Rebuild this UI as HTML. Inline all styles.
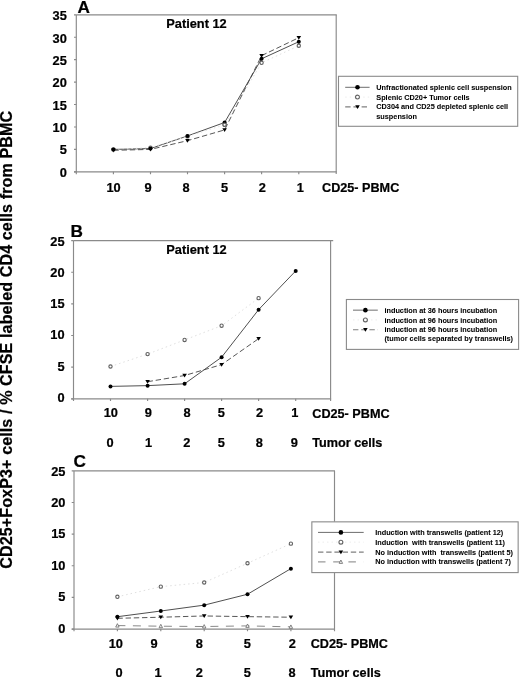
<!DOCTYPE html>
<html lang="en"><head><meta charset="utf-8"><title>Figure</title>
<style>html,body{margin:0;padding:0;background:#fff}svg{display:block}text{font-family:"Liberation Sans", Arial, Helvetica, sans-serif;font-weight:bold;fill:#000;stroke:#000;stroke-width:0.22px;white-space:pre}text.l{stroke-width:0.05px}</style></head><body>
<svg width="520" height="678" viewBox="0 0 520 678">
<rect width="520" height="678" fill="#fff"/>
<text transform="translate(12.3 339.8) rotate(-90)" font-size="16.1" letter-spacing="0.1" text-anchor="middle">CD25+FoxP3+ cells / % CFSE labeled CD4 cells from PBMC</text>
<g fill="none" stroke="#8a8a8a" stroke-width="1.15">
<path d="M76.3 14.8H336.7"/>
<path d="M336.2 14.8V174.05"/>
<path d="M76.3 14.8V174.15M74 171.85H336.7"/>
<path d="M74 171.85H76.3M74 149.41H76.3M74 126.98H76.3M74 104.54H76.3M74 82.11H76.3M74 59.67H76.3M74 37.24H76.3M74 14.8H76.3M113.4 171.85V174.15M150.5 171.85V174.15M187.5 171.85V174.15M224.6 171.85V174.15M261.6 171.85V174.15M298.8 171.85V174.15"/>
</g>
<text x="66.8" y="176.7" font-size="12.8" text-anchor="end">0</text>
<text x="66.8" y="154.34" font-size="12.8" text-anchor="end">5</text>
<text x="66.8" y="131.99" font-size="12.8" text-anchor="end">10</text>
<text x="66.8" y="109.63" font-size="12.8" text-anchor="end">15</text>
<text x="66.8" y="87.27" font-size="12.8" text-anchor="end">20</text>
<text x="66.8" y="64.91" font-size="12.8" text-anchor="end">25</text>
<text x="66.8" y="42.56" font-size="12.8" text-anchor="end">30</text>
<text x="66.8" y="20.2" font-size="12.8" text-anchor="end">35</text>
<text x="113.6" y="192.3" font-size="12.8" text-anchor="middle">10</text>
<text x="148" y="192.3" font-size="12.8" text-anchor="middle">9</text>
<text x="186" y="192.3" font-size="12.8" text-anchor="middle">8</text>
<text x="224.5" y="192.3" font-size="12.8" text-anchor="middle">5</text>
<text x="262.3" y="192.3" font-size="12.8" text-anchor="middle">2</text>
<text x="300.4" y="192.3" font-size="12.8" text-anchor="middle">1</text>
<polyline points="113.4,149.41 150.5,148.52 187.5,135.95 224.6,122.49 261.6,58.77 298.8,41.72" fill="none" stroke="#505050" stroke-width="1.0"/>
<polyline points="113.4,149.41 150.5,147.62 187.5,136.4 224.6,124.73 261.6,62.81 298.8,45.76" fill="none" stroke="#e0e0e0" stroke-width="1" stroke-dasharray="1.5 3"/>
<polyline points="113.4,150.31 150.5,149.41 187.5,140.66 224.6,129.9 261.6,55.63 298.8,37.68" fill="none" stroke="#444" stroke-width="0.9" stroke-dasharray="5.4 2.8"/>
<path d="M111.1 148.61H115.7L113.4 152.41Z" fill="#000"/>
<path d="M148.2 147.71H152.8L150.5 151.51Z" fill="#000"/>
<path d="M185.2 138.96H189.8L187.5 142.76Z" fill="#000"/>
<path d="M222.3 128.2H226.9L224.6 132Z" fill="#000"/>
<path d="M259.3 53.93H263.9L261.6 57.73Z" fill="#000"/>
<path d="M296.5 35.98H301.1L298.8 39.78Z" fill="#000"/>
<circle cx="113.4" cy="149.41" r="1.65" fill="#fff" stroke="#606060" stroke-width="1.1"/>
<circle cx="150.5" cy="147.62" r="1.65" fill="#fff" stroke="#606060" stroke-width="1.1"/>
<circle cx="187.5" cy="136.4" r="1.65" fill="#fff" stroke="#606060" stroke-width="1.1"/>
<circle cx="224.6" cy="124.73" r="1.65" fill="#fff" stroke="#606060" stroke-width="1.1"/>
<circle cx="261.6" cy="62.81" r="1.65" fill="#fff" stroke="#606060" stroke-width="1.1"/>
<circle cx="298.8" cy="45.76" r="1.65" fill="#fff" stroke="#606060" stroke-width="1.1"/>
<circle cx="113.4" cy="149.41" r="2.0" fill="#000"/>
<circle cx="150.5" cy="148.52" r="2.0" fill="#000"/>
<circle cx="187.5" cy="135.95" r="2.0" fill="#000"/>
<circle cx="224.6" cy="122.49" r="2.0" fill="#000"/>
<circle cx="261.6" cy="58.77" r="2.0" fill="#000"/>
<circle cx="298.8" cy="41.72" r="2.0" fill="#000"/>
<circle cx="224.6" cy="124.73" r="1.65" fill="#fff" stroke="#606060" stroke-width="1.1"/>
<text x="77.5" y="13" font-size="17.2">A</text>
<text x="196.5" y="28.4" font-size="12.8" text-anchor="middle">Patient 12</text>
<text x="322" y="192.2" font-size="12.65">CD25- PBMC</text>
<rect x="338.5" y="76.3" width="179.2" height="50" fill="#fff" stroke="#8a8a8a" stroke-width="1.1"/>
<path d="M345.2 87.3H369.6" stroke="#484848" stroke-width="0.8" fill="none"/>
<circle cx="357.5" cy="87.3" r="2.3" fill="#000"/>
<text x="376.3" y="89.85" font-size="7.3" class="l">Unfractionated splenic cell suspension</text>
<path d="M345.2 97.1H369.6" stroke="#ececec" stroke-width="1" stroke-dasharray="1.5 3" fill="none"/>
<circle cx="357.5" cy="97.1" r="1.9499999999999997" fill="#fff" stroke="#606060" stroke-width="1.1"/>
<text x="376.3" y="99.5" font-size="7.3" class="l">Splenic CD20+ Tumor cells</text>
<path d="M345.2 106.9H369.6" stroke="#808080" stroke-width="1.2" stroke-dasharray="5.4 2.8" fill="none"/>
<path d="M355.2 105.2H359.8L357.5 109Z" fill="#000"/>
<text x="376.3" y="109.2" font-size="7.3" class="l">CD304 and CD25 depleted splenic cell</text>
<text x="376.3" y="119" font-size="7.3" class="l">suspension</text>
<g fill="none" stroke="#8a8a8a" stroke-width="1.15">
<path d="M73.5 240.55H333.2"/>
<path d="M330.6 240.55V401"/>
<path d="M73.5 240.55V401.1M71.2 398.8H331.1"/>
<path d="M71.2 398.8H73.5M71.2 367.15H73.5M71.2 335.5H73.5M71.2 303.85H73.5M71.2 272.2H73.5M71.2 240.55H73.5M110.5 398.8V401.1M147.6 398.8V401.1M184.6 398.8V401.1M221.6 398.8V401.1M258.6 398.8V401.1M295.7 398.8V401.1"/>
</g>
<text x="64.5" y="402.1" font-size="12.8" text-anchor="end">0</text>
<text x="64.5" y="370.78" font-size="12.8" text-anchor="end">5</text>
<text x="64.5" y="339.46" font-size="12.8" text-anchor="end">10</text>
<text x="64.5" y="308.14" font-size="12.8" text-anchor="end">15</text>
<text x="64.5" y="276.82" font-size="12.8" text-anchor="end">20</text>
<text x="64.5" y="245.5" font-size="12.8" text-anchor="end">25</text>
<text x="110.8" y="417.4" font-size="12.8" text-anchor="middle">10</text>
<text x="148.2" y="417.4" font-size="12.8" text-anchor="middle">9</text>
<text x="187" y="417.4" font-size="12.8" text-anchor="middle">8</text>
<text x="221.4" y="417.4" font-size="12.8" text-anchor="middle">5</text>
<text x="259.5" y="417.4" font-size="12.8" text-anchor="middle">2</text>
<text x="294.9" y="417.4" font-size="12.8" text-anchor="middle">1</text>
<text x="110" y="447" font-size="12.8" text-anchor="middle">0</text>
<text x="148.6" y="447" font-size="12.8" text-anchor="middle">1</text>
<text x="186.7" y="447" font-size="12.8" text-anchor="middle">2</text>
<text x="221.4" y="447" font-size="12.8" text-anchor="middle">5</text>
<text x="259.2" y="447" font-size="12.8" text-anchor="middle">8</text>
<text x="294.4" y="447" font-size="12.8" text-anchor="middle">9</text>
<polyline points="110.5,386.39 147.6,385.63 184.6,383.8 221.6,357.21 258.6,309.67 295.7,270.93" fill="none" stroke="#505050" stroke-width="1.0"/>
<polyline points="110.5,366.52 147.6,354.11 184.6,339.93 221.6,325.69 258.6,298.15" fill="none" stroke="#e0e0e0" stroke-width="1" stroke-dasharray="1.5 3"/>
<polyline points="147.6,381.71 184.6,375.51 221.6,364.62 258.6,338.67" fill="none" stroke="#444" stroke-width="0.9" stroke-dasharray="5.4 2.8"/>
<path d="M145.3 380.01H149.9L147.6 383.81Z" fill="#000"/>
<path d="M182.3 373.81H186.9L184.6 377.61Z" fill="#000"/>
<path d="M219.3 362.92H223.9L221.6 366.72Z" fill="#000"/>
<path d="M256.3 336.97H260.9L258.6 340.77Z" fill="#000"/>
<circle cx="110.5" cy="366.52" r="1.65" fill="#fff" stroke="#606060" stroke-width="1.1"/>
<circle cx="147.6" cy="354.11" r="1.65" fill="#fff" stroke="#606060" stroke-width="1.1"/>
<circle cx="184.6" cy="339.93" r="1.65" fill="#fff" stroke="#606060" stroke-width="1.1"/>
<circle cx="221.6" cy="325.69" r="1.65" fill="#fff" stroke="#606060" stroke-width="1.1"/>
<circle cx="258.6" cy="298.15" r="1.65" fill="#fff" stroke="#606060" stroke-width="1.1"/>
<circle cx="110.5" cy="386.39" r="2.0" fill="#000"/>
<circle cx="147.6" cy="385.63" r="2.0" fill="#000"/>
<circle cx="184.6" cy="383.8" r="2.0" fill="#000"/>
<circle cx="221.6" cy="357.21" r="2.0" fill="#000"/>
<circle cx="258.6" cy="309.67" r="2.0" fill="#000"/>
<circle cx="295.7" cy="270.93" r="2.0" fill="#000"/>
<text x="70.5" y="237" font-size="17.2">B</text>
<text x="196.5" y="253.6" font-size="12.8" text-anchor="middle">Patient 12</text>
<text x="312.3" y="417.6" font-size="12.65">CD25- PBMC</text>
<text x="312.3" y="447" font-size="12.65">Tumor cells</text>
<rect x="346.4" y="299.5" width="172.2" height="49.9" fill="#fff" stroke="#8a8a8a" stroke-width="1.1"/>
<path d="M353 310.15H377.8" stroke="#484848" stroke-width="0.8" fill="none"/>
<circle cx="365.4" cy="310.15" r="2.3" fill="#000"/>
<text x="384.45" y="312.7" font-size="7.3" class="l">induction at 36 hours incubation</text>
<path d="M353 319.95H377.8" stroke="#ececec" stroke-width="1" stroke-dasharray="1.5 3" fill="none"/>
<circle cx="365.4" cy="319.95" r="1.9499999999999997" fill="#fff" stroke="#606060" stroke-width="1.1"/>
<text x="384.45" y="322.6" font-size="7.3" class="l">induction at 96 hours incubation</text>
<path d="M353 329.75H377.8" stroke="#808080" stroke-width="1.2" stroke-dasharray="5.4 2.8" fill="none"/>
<path d="M363.1 328.05H367.7L365.4 331.85Z" fill="#000"/>
<text x="384.45" y="332.4" font-size="7.3" class="l">induction at 96 hours incubation</text>
<text x="384.45" y="341.1" font-size="7.3" class="l">(tumor cells separated by transwells)</text>
<g fill="none" stroke="#8a8a8a" stroke-width="1.15">
<path d="M74 470.9H335"/>
<path d="M334.5 470.9V521.8M334.5 572.6V631.25"/>
<path d="M74 470.9V631.35M71.7 629.05H335"/>
<path d="M71.7 629.05H74M71.7 597.42H74M71.7 565.79H74M71.7 534.16H74M71.7 502.53H74M71.7 470.9H74M117.4 629.05V631.35M160.8 629.05V631.35M204.2 629.05V631.35M247.5 629.05V631.35M290.9 629.05V631.35"/>
</g>
<text x="65.4" y="632.6" font-size="12.8" text-anchor="end">0</text>
<text x="65.4" y="601.22" font-size="12.8" text-anchor="end">5</text>
<text x="65.4" y="569.84" font-size="12.8" text-anchor="end">10</text>
<text x="65.4" y="538.46" font-size="12.8" text-anchor="end">15</text>
<text x="65.4" y="507.08" font-size="12.8" text-anchor="end">20</text>
<text x="65.4" y="475.7" font-size="12.8" text-anchor="end">25</text>
<text x="115.8" y="648.4" font-size="12.8" text-anchor="middle">10</text>
<text x="154" y="648.4" font-size="12.8" text-anchor="middle">9</text>
<text x="199.2" y="648.4" font-size="12.8" text-anchor="middle">8</text>
<text x="247.3" y="648.4" font-size="12.8" text-anchor="middle">5</text>
<text x="292.4" y="648.4" font-size="12.8" text-anchor="middle">2</text>
<text x="119" y="677.4" font-size="12.8" text-anchor="middle">0</text>
<text x="158" y="677.4" font-size="12.8" text-anchor="middle">1</text>
<text x="199.2" y="677.4" font-size="12.8" text-anchor="middle">2</text>
<text x="247.3" y="677.4" font-size="12.8" text-anchor="middle">5</text>
<text x="292.1" y="677.4" font-size="12.8" text-anchor="middle">8</text>
<polyline points="117.4,616.71 160.8,611.02 204.2,605.14 247.5,594.26 290.9,568.64" fill="none" stroke="#505050" stroke-width="1.0"/>
<polyline points="117.4,596.79 160.8,586.67 204.2,582.49 247.5,563.26 290.9,543.65" fill="none" stroke="#e0e0e0" stroke-width="1" stroke-dasharray="1.5 3"/>
<polyline points="117.4,618.3 160.8,617.22 204.2,615.96 247.5,616.65 290.9,617.22" fill="none" stroke="#444" stroke-width="0.9" stroke-dasharray="5.4 2.8"/>
<polyline points="117.4,625.57 160.8,626.2 204.2,626.52 247.5,625.89 290.9,626.84" fill="none" stroke="#8a8a8a" stroke-width="1" stroke-dasharray="8 7.5"/>
<path d="M115.7 627.07H119.1L117.4 623.67Z" fill="#fff" stroke="#666" stroke-width="0.8"/>
<path d="M159.1 627.7H162.5L160.8 624.3Z" fill="#fff" stroke="#666" stroke-width="0.8"/>
<path d="M202.5 628.02H205.9L204.2 624.62Z" fill="#fff" stroke="#666" stroke-width="0.8"/>
<path d="M245.8 627.39H249.2L247.5 623.99Z" fill="#fff" stroke="#666" stroke-width="0.8"/>
<path d="M289.2 628.34H292.6L290.9 624.94Z" fill="#fff" stroke="#666" stroke-width="0.8"/>
<path d="M115.1 616.6H119.7L117.4 620.4Z" fill="#000"/>
<path d="M158.5 615.52H163.1L160.8 619.32Z" fill="#000"/>
<path d="M201.9 614.26H206.5L204.2 618.06Z" fill="#000"/>
<path d="M245.2 614.95H249.8L247.5 618.75Z" fill="#000"/>
<path d="M288.6 615.52H293.2L290.9 619.32Z" fill="#000"/>
<circle cx="117.4" cy="596.79" r="1.65" fill="#fff" stroke="#606060" stroke-width="1.1"/>
<circle cx="160.8" cy="586.67" r="1.65" fill="#fff" stroke="#606060" stroke-width="1.1"/>
<circle cx="204.2" cy="582.49" r="1.65" fill="#fff" stroke="#606060" stroke-width="1.1"/>
<circle cx="247.5" cy="563.26" r="1.65" fill="#fff" stroke="#606060" stroke-width="1.1"/>
<circle cx="290.9" cy="543.65" r="1.65" fill="#fff" stroke="#606060" stroke-width="1.1"/>
<circle cx="117.4" cy="616.71" r="2.0" fill="#000"/>
<circle cx="160.8" cy="611.02" r="2.0" fill="#000"/>
<circle cx="204.2" cy="605.14" r="2.0" fill="#000"/>
<circle cx="247.5" cy="594.26" r="2.0" fill="#000"/>
<circle cx="290.9" cy="568.64" r="2.0" fill="#000"/>
<text x="73.5" y="467.4" font-size="17.2">C</text>
<text x="310.7" y="648.4" font-size="12.65">CD25- PBMC</text>
<text x="310.7" y="677.4" font-size="12.65">Tumor cells</text>
<rect x="311.85" y="521.85" width="206.3" height="50.75" fill="#fff" stroke="#8a8a8a" stroke-width="1.1"/>
<path d="M318 532.4H363.7" stroke="#484848" stroke-width="0.8" fill="none"/>
<circle cx="340.9" cy="532.4" r="2.3" fill="#000"/>
<text x="375.2" y="534.5" font-size="7.3" class="l">Induction with transwells (patient 12)</text>
<path d="M318 542.15H363.7" stroke="#ececec" stroke-width="1" stroke-dasharray="1.5 3" fill="none"/>
<circle cx="340.9" cy="542.15" r="1.9499999999999997" fill="#fff" stroke="#606060" stroke-width="1.1"/>
<text x="375.2" y="544.5" font-size="7.3" class="l">Induction  with transwells (patient 11)</text>
<path d="M318 552.1H363.7" stroke="#808080" stroke-width="1.2" stroke-dasharray="5.4 2.8" fill="none"/>
<path d="M338.6 550.4H343.2L340.9 554.2Z" fill="#000"/>
<text x="375.2" y="554.5" font-size="7.3" class="l">No induction with  transwells (patient 5)</text>
<path d="M318 561.9H363.7" stroke="#9a9a9a" stroke-width="1.2" stroke-dasharray="7.5 7.7" fill="none"/>
<path d="M339.2 563.4H342.6L340.9 560Z" fill="#fff" stroke="#666" stroke-width="0.8"/>
<text x="375.2" y="564" font-size="7.3" class="l">No induction with transwells (patient 7)</text>
</svg></body></html>
